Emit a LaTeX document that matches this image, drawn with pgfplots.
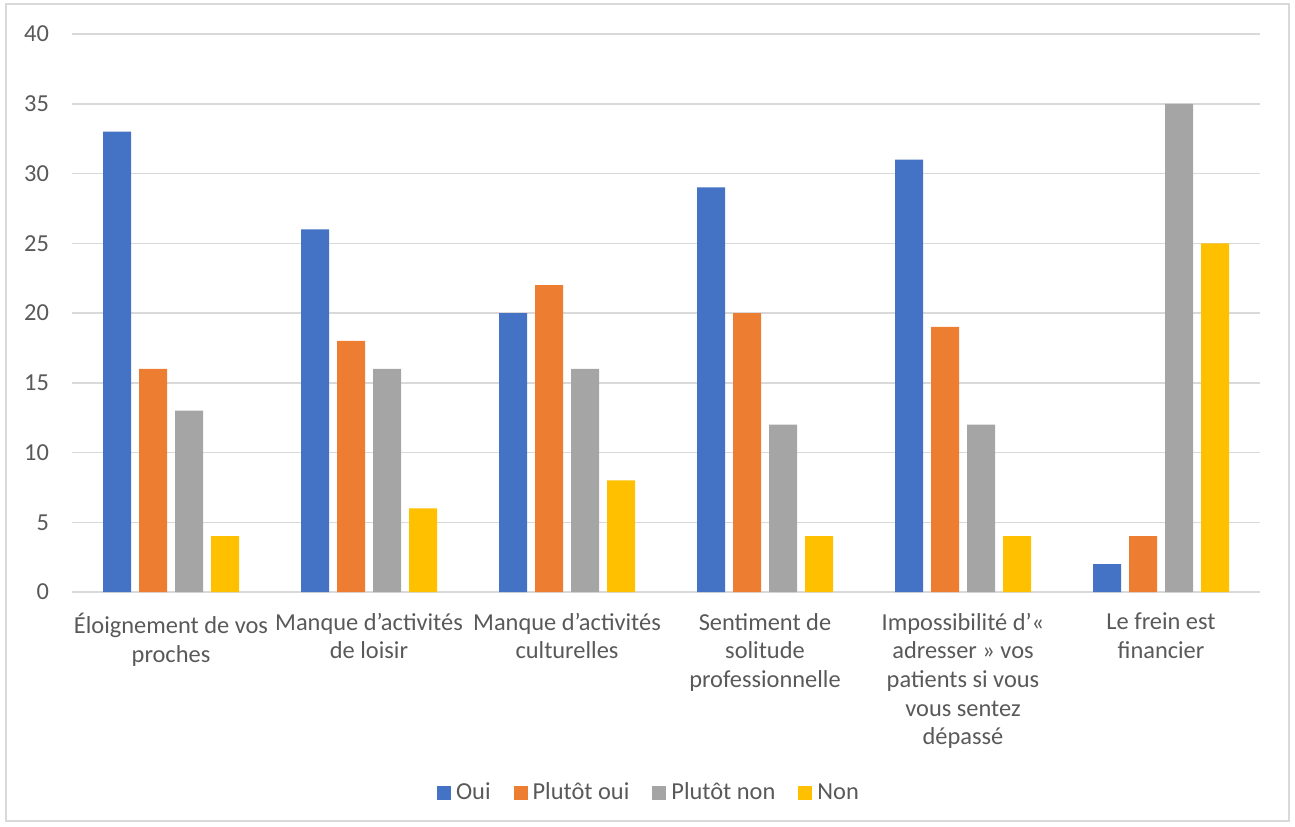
\documentclass[border=0pt]{standalone}
\usepackage{fontspec}
\setmainfont{Carlito}
\usepackage{pgfplots}
\pgfplotsset{compat=1.18}
\definecolor{cOui}{HTML}{4472C4}
\definecolor{cPO}{HTML}{ED7D31}
\definecolor{cPN}{HTML}{A5A5A5}
\definecolor{cNon}{HTML}{FFC000}
\definecolor{gridc}{HTML}{D9D9D9}
\definecolor{txt}{HTML}{595959}
\definecolor{framec}{HTML}{D9D9D9}
\begin{document}
\begin{tikzpicture}
\useasboundingbox (-36pt,-117pt) rectangle (611.5pt,296pt);
\draw[framec, line width=0.75pt] (-33pt,-114.5pt) rectangle (608.5pt,294pt);
\begin{axis}[
  at={(0pt,0pt)}, anchor=south west,
  scale only axis,
  width=594pt, height=279pt,
  ybar=4pt, bar width=14pt,
  xmin=-0.5, xmax=5.5, ymin=0, ymax=40,
  ytick={0,5,...,40},
  xtick={0,1,2,3,4,5},
  xticklabels={{Éloignement de vos\\proches},{Manque d’activités\\de loisir},{Manque d’activités\\culturelles},{Sentiment de\\solitude\\professionnelle},{Impossibilité d’«\\adresser » vos\\patients si vous\\vous sentez\\dépassé},{Le frein est\\financier}},
  xticklabel style={align=center, anchor=north, yshift=-7pt},
  xmajorgrids=false,
  ymajorgrids, grid style={draw=gridc, line width=0.75pt},
  axis x line*=bottom, axis y line*=left,
  x axis line style={draw=gridc, line width=0.75pt, -},
  y axis line style={draw=none},
  major tick length=0pt,
  tick label style={font=\fontsize{12.2pt}{14.3pt}\selectfont, text=txt},
  /pgf/number format/assume math mode=true,
  yticklabel style={xshift=-8pt},
  legend columns=4,
  legend style={at={(0.4865,-0.36)}, anchor=center, draw=none,
    font=\fontsize{12.2pt}{14.3pt}\selectfont, text=txt,
    /tikz/every odd column/.append style={column sep=0.5pt},
    /tikz/every even column/.append style={column sep=9.5pt}},
  legend image code/.code={\fill[#1] (0pt,-3.5pt) rectangle (7pt,3.5pt);},
]
\addplot[fill=cOui, draw=none] coordinates {(0,33) (1,26) (2,20) (3,29) (4,31) (5,2)};
\addplot[fill=cPO, draw=none] coordinates {(0,16) (1,18) (2,22) (3,20) (4,19) (5,4)};
\addplot[fill=cPN, draw=none] coordinates {(0,13) (1,16) (2,16) (3,12) (4,12) (5,35)};
\addplot[fill=cNon, draw=none] coordinates {(0,4) (1,6) (2,8) (3,4) (4,4) (5,25)};
\legend{Oui, Plutôt oui, Plutôt non, Non}
\end{axis}
\end{tikzpicture}
\end{document}
